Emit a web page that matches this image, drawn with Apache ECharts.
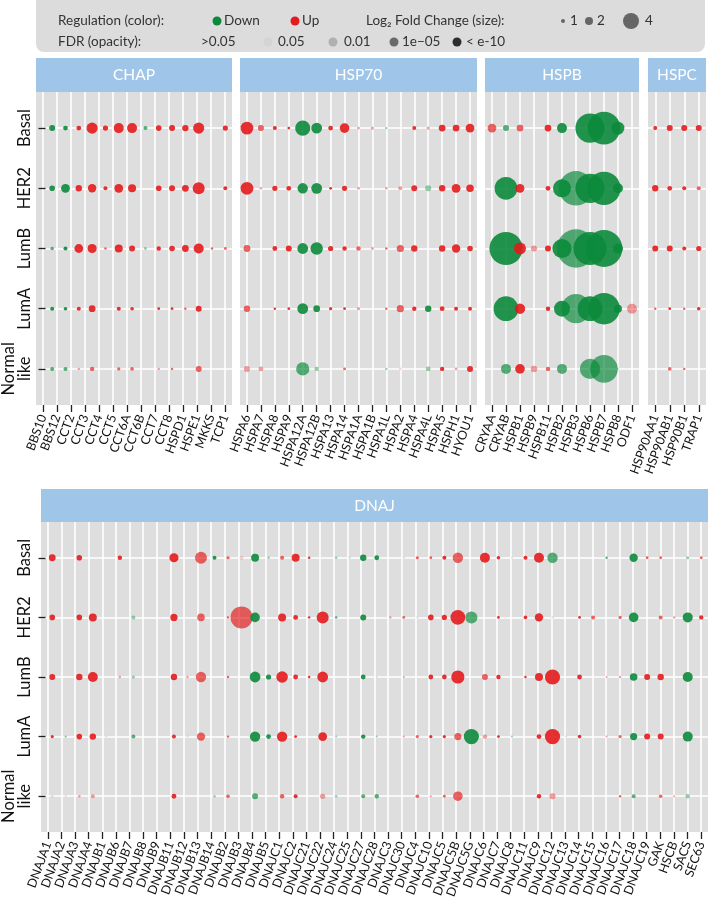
<!DOCTYPE html>
<html>
<head>
<meta charset="utf-8">
<script src="https://cdn.jsdelivr.net/npm/echarts@6/dist/echarts.min.js"></script>
<style>
html,body{margin:0;padding:0;background:#fff;}
#chart{width:709px;height:907px;}
</style>
</head>
<body>
<div id="chart"></div>
<script>
// ---------------- DATA ----------------
// rows (subtypes)
const rows = ['Basal', 'HER2', 'LumB', 'LumA', 'Normal\nlike'];
// FDR level codes: 0 = >0.05 (not drawn), 1 = 0.05, 2 = 0.01, 3 = 1e-05, 4 = < e-10
// fold change arrays: signed log2 fold change (negative = Down, positive = Up)

const chapGenes = ['BBS10','BBS12','CCT2','CCT3','CCT4','CCT5','CCT6A','CCT6B','CCT7','CCT8','HSPD1','HSPE1','MKKS','TCP1'];
const chapFC = [
  [-1.5,-1.2, 1.2, 2.8, 1.3, 2.5, 2.5,-1.0, 1.4, 1.5, 1.6, 2.8, 0,   1.3],
  [-1.4,-2.2, 1.6, 2.1, 1.0, 2.2, 2.0, 0,   1.4, 1.5, 1.7, 3.0, 0,   1.0],
  [-0.9,-1.0, 2.2, 2.3, 0.6, 2.0, 1.5,-0.7, 1.1, 1.4, 1.7, 2.5, 0.6, 0.7],
  [-1.0,-0.9, 1.0, 1.7, 0,   1.0, 0.9, 0,   0.7, 0.7, 0.6, 1.5, 0,   0  ],
  [-1.0,-1.0, 0.6, 1.1, 0,   0.8, 0.9, 0,   0.6, 0.6, 0,   1.5, 0,   0  ]
];
const chapFDR = [
  [4,4,4,4,4,4,4,3,4,4,4,4,0,4],
  [4,4,4,4,4,4,4,0,4,4,4,4,0,4],
  [3,4,4,4,3,4,4,2,4,4,4,4,3,3],
  [4,4,4,4,0,4,4,0,4,4,3,4,0,0],
  [3,3,2,3,0,3,3,0,2,3,0,3,0,0]
];

const hsp70Genes = ['HSPA6','HSPA7','HSPA8','HSPA9','HSPA12A','HSPA12B','HSPA13','HSPA14','HSPA1A','HSPA1B','HSPA1L','HSPA2','HSPA4','HSPA4L','HSPA5','HSPH1','HYOU1'];
const hsp70FC = [
  [3.2, 1.5, 1.0, 0.7,-3.8,-2.7, 1.2, 2.4, 0.7, 0.8,-0.6, 0,   1.0, 0.8, 1.7, 1.7, 2.2],
  [3.2, 0.6, 1.3, 1.2,-2.6,-2.7, 0.7, 1.3, 0.7, 0,   0.6, 1.0, 1.5,-1.5, 1.6, 2.2, 1.9],
  [1.7, 0,   1.2, 1.5,-2.7,-3.1, 1.3, 1.1, 1.1, 0.7, 0.6, 1.8, 1.6, 0,   1.6, 2.1, 1.4],
  [1.6, 0,   0.6, 0.7,-2.7,-1.7, 0.8, 0.7, 0.8, 0,   0.6, 1.8, 1.1,-1.6, 1.2, 1.0, 1.0],
  [1.5, 1.2, 0,   0,  -3.3,-1.1, 0,   0.7, 0,   0,  -0.6, 0.7, 0,  -1.2, 1.1, 0.7, 1.5]
];
const hsp70FDR = [
  [4,3,4,4,4,4,4,4,2,2,2,0,4,2,4,4,4],
  [4,2,4,4,4,4,4,4,2,0,2,2,4,2,4,4,4],
  [3,0,4,4,4,4,4,4,3,2,3,3,4,0,4,4,4],
  [3,0,4,4,4,4,4,4,2,0,3,3,4,4,4,4,4],
  [2,2,0,0,3,2,0,3,0,0,2,1,0,2,4,2,4]
];

const hspbGenes = ['CRYAA','CRYAB','HSPB1','HSPB9','HSPB11','HSPB2','HSPB3','HSPB6','HSPB7','HSPB8','ODF1'];
const hspbFC = [
  [2.2,-1.5, 1.7, 0,   1.7,-2.5, 0,  -7.3,-8.2,-3.2, 0  ],
  [0,  -5.7, 2.2, 0,   1.2,-4.5,-8.6,-7.3,-8.3,-2.5, 0  ],
  [0,  -8.3, 3.0, 1.5, 1.5,-4.8,-9.6,-8.3,-9.2,-2.5, 0  ],
  [0,  -6.2, 2.6, 0,   1.1,-4.0,-7.3,-6.2,-7.9,-2.0, 2.5],
  [0,  -2.5, 2.4, 1.6, 1.1,-2.5, 0,  -5.1,-6.9,-0.6, 0  ]
];
const hspbFDR = [
  [3,3,3,0,4,4,0,4,4,4,0],
  [0,4,4,0,4,4,3,4,4,4,0],
  [0,4,4,2,4,4,3,4,4,4,0],
  [0,4,4,0,4,4,3,4,4,4,2],
  [0,3,4,2,3,3,0,3,3,1,0]
];

const hspcGenes = ['HSP90AA1','HSP90AB1','HSP90B1','TRAP1'];
const hspcFC = [
  [1.0, 1.5, 1.5, 1.5],
  [1.6, 1.2, 1.0, 1.0],
  [1.5, 1.5, 1.0, 1.3],
  [0.6, 0.7, 0.6, 0.9],
  [0,   0.9, 0.6, 0  ]
];
const hspcFDR = [
  [4,4,4,4],
  [4,4,4,3],
  [4,4,4,4],
  [3,4,3,4],
  [0,3,3,0]
];

const dnajGenes = ['DNAJA1','DNAJA2','DNAJA3','DNAJA4','DNAJB1','DNAJB6','DNAJB7','DNAJB8','DNAJB9','DNAJB11','DNAJB12','DNAJB13','DNAJB14','DNAJB2','DNAJB3','DNAJB4','DNAJB5','DNAJC1','DNAJC2','DNAJC21','DNAJC22','DNAJC24','DNAJC25','DNAJC27','DNAJC28','DNAJC3','DNAJC30','DNAJC4','DNAJC10','DNAJC5','DNAJC5B','DNAJC5G','DNAJC6','DNAJC7','DNAJC8','DNAJC11','DNAJC9','DNAJC12','DNAJC13','DNAJC14','DNAJC15','DNAJC16','DNAJC17','DNAJC18','DNAJC19','GAK','HSCB','SACS','SEC63'];
const dnajFC = [
  [1.7, 0,   1.4, 0,   0,   1.1, 0,   0, 0, 2.3, 0,   3.0,-1.0, 0.8, 1.0,-2.0,-0.6, 1.0, 2.0, 0.6, 0,  -0.6,-0.6,
   -1.6,-1.2, 0,   0.5, 0.8, 0.7, 1.0, 2.6, 0,   2.5, 0.9, 0.5, 1.0, 2.5,-2.6, 0,   0,   0,  -0.6, 0,  -2.1, 0.7, 0.7, 0,  -0.8, 0.7],
  [1.4, 0,   1.4, 2.0, 0,   0,  -1.0, 0, 0, 1.8, 0,   1.9, 0,   0.6, 5.5,-2.4, 0,   2.0, 1.2, 0.6, 3.0,-0.6, 0,
   -1.5, 0,   0.6, 0.7, 0.5, 1.4, 1.3, 3.7,-3.0, 0,   0.7, 0,   0.9, 2.1, 0.6, 0,   0.7, 1.0, 0,   0.8,-2.4, 0,   1.0, 0.6,-2.5, 1.1],
  [1.5, 0,   1.6, 2.5, 0,   0.6,-0.8, 0, 0, 1.6, 0.6, 2.6, 0,   0.6, 0,  -2.7,-1.3, 2.9, 1.2, 0.6, 2.7, 0,   0,
   -1.2,-0.5, 0,   0.5, 0,   1.2, 1.2, 3.3, 0,   1.5, 1.1, 0,   0.6, 2.0, 3.8, 0,   1.2, 0,   0.5, 0.6,-1.9, 1.5, 1.6, 0,  -2.5, 0  ],
  [0.8,-0.6, 1.4, 1.6,-0.5, 0,  -1.0, 0, 0, 1.0, 0.5, 2.1, 0,   0.6, 0,  -2.6,-1.2, 2.6, 0.7, 0,   2.2,-0.5, 0,
   -1.1,-0.5, 0,   0.5, 0.8, 0.8, 0.8, 1.8,-3.8, 1.1, 0.7,-0.5, 0,   1.2, 3.8,-0.5, 0.9, 0,   0.5, 0.8,-1.8, 1.5, 1.5, 0,  -2.5, 0  ],
  [0.6,-0.5, 0.6, 1.0, 0,   0,   0,   0, 0, 1.2, 0,   0,  -0.6, 0.9, 0,  -1.5, 0,   1.1, 1.0, 0,   1.3,-0.6, 0,
   -1.0,-1.1, 0,   0,   0.9, 0.5, 0.7, 2.4, 0,   0,   0,   0,   0,   1.1, 1.5, 0,   0,   0,   0,   0.6,-1.0, 0,   0.9, 0.5,-1.1, 0  ]
];
const dnajFDR = [
  [4,0,4,0,0,4,0,0,0,4,0,3,4,3,1,4,2,3,4,4,0,2,1,
   4,4,0,1,3,3,4,3,0,4,4,1,4,4,3,0,0,0,3,0,4,3,3,0,2,3],
  [4,0,4,4,0,0,2,0,0,4,0,3,0,3,3,4,0,4,4,4,4,3,0,
   4,0,2,3,1,4,4,4,3,0,4,0,4,4,1,0,4,3,0,3,4,0,3,2,4,4],
  [4,0,4,4,0,2,2,0,0,4,2,3,0,3,0,4,4,4,4,4,4,0,0,
   4,1,0,2,0,4,4,4,0,3,4,0,4,4,4,0,4,0,2,2,4,4,4,0,4,0],
  [4,2,4,4,1,0,3,0,0,4,1,3,0,3,0,4,4,4,4,0,4,2,0,
   4,2,0,2,3,4,4,3,4,2,4,2,0,4,4,1,4,0,2,3,4,4,4,0,4,0],
  [1,1,2,2,0,0,0,0,0,4,0,0,2,3,0,3,0,3,4,0,2,2,0,
   3,3,0,0,3,2,3,3,0,0,0,0,0,4,2,0,0,0,0,3,3,0,3,2,2,0]
];

// ---------------- STYLE / LAYOUT ----------------
const FONT = 'Lato, "Liberation Sans", sans-serif';
const RED = '#e41a1c';
const GREEN = '#0b8a3b';
const PANEL_BG = '#dedede';
const STRIP = '#9fc5e8';
const ALPHA = [0, 0.18, 0.42, 0.68, 0.9];
const SIZE_PER_UNIT = 4;

const panels = [
  {name:'CHAP',  genes:chapGenes,  fc:chapFC,  fdr:chapFDR,  left:36,  width:196, top:92,  height:313, stripTop:58,  yLabels:true},
  {name:'HSP70', genes:hsp70Genes, fc:hsp70FC, fdr:hsp70FDR, left:240, width:237, top:92,  height:313, stripTop:58,  yLabels:false},
  {name:'HSPB',  genes:hspbGenes,  fc:hspbFC,  fdr:hspbFDR,  left:485, width:154, top:92,  height:313, stripTop:58,  yLabels:false},
  {name:'HSPC',  genes:hspcGenes,  fc:hspcFC,  fdr:hspcFDR,  left:648, width:58,  top:92,  height:313, stripTop:58,  yLabels:false},
  {name:'DNAJ',  genes:dnajGenes,  fc:dnajFC,  fdr:dnajFDR,  left:41,  width:667, top:522, height:310, stripTop:489, yLabels:true}
];

const grid = [], xAxis = [], yAxis = [], series = [], graphic = [];

panels.forEach((p) => {
  const u = p.height / (rows.length + 0.2);
  const gA = grid.length;
  // background grid (full panel): vertical grid lines, x ticks & labels
  grid.push({left:p.left, top:p.top, width:p.width, height:p.height, show:true, backgroundColor:PANEL_BG, borderWidth:0});
  xAxis.push({
    type:'category', gridIndex:gA, data:p.genes, position:'bottom',
    axisLine:{show:false},
    axisTick:{show:true, alignWithLabel:true, interval:0, length:7, lineStyle:{color:'#222', width:1.3}},
    axisLabel:{interval:0, rotate:70, margin:10, fontSize:12.5, color:'#111', fontFamily:FONT},
    splitLine:{show:true, alignWithLabel:true, interval:0, lineStyle:{color:'#ffffff', width:1.6}}
  });
  yAxis.push({type:'value', gridIndex:gA, show:false, min:0, max:1});
  // data grid (inner, ggplot-style 0.6 expansion)
  const gB = grid.length;
  grid.push({left:p.left, top:p.top + 0.1*u, width:p.width, height:rows.length*u, show:false});
  xAxis.push({type:'category', gridIndex:gB, data:p.genes, show:false});
  yAxis.push({
    type:'category', gridIndex:gB, data:rows, inverse:true,
    axisLine:{show:false},
    axisTick:{show:p.yLabels, alignWithLabel:true, interval:0, length:7, lineStyle:{color:'#222', width:1.3}},
    axisLabel:{show:p.yLabels, interval:0, rotate:90, margin:13, fontSize:16.5, color:'#111', fontFamily:FONT, lineHeight:16, align:'center'},
    splitLine:{show:true, alignWithLabel:true, interval:0, lineStyle:{color:'#ffffff', width:1.6}}
  });
  const data = [];
  p.genes.forEach((g, j) => {
    rows.forEach((r, i) => {
      const v = p.fc[i][j], lvl = p.fdr[i][j];
      if (!v || !lvl) return;
      data.push({
        value:[g, r, v, lvl],
        symbolSize: SIZE_PER_UNIT * Math.abs(v),
        itemStyle:{color: v > 0 ? RED : GREEN, opacity: ALPHA[lvl]}
      });
    });
  });
  series.push({type:'scatter', xAxisIndex:gB, yAxisIndex:gB, data:data, symbol:'circle', silent:true, z:3});
  // strip header
  graphic.push({type:'rect', shape:{x:p.left, y:p.stripTop, width:p.width, height:p.top - p.stripTop}, style:{fill:STRIP}, silent:true});
  graphic.push({type:'text', x:p.left + p.width/2, y:(p.stripTop + p.top)/2,
    style:{text:p.name, fill:'#ffffff', fontSize:15.5, fontFamily:FONT, align:'center', verticalAlign:'middle'}, silent:true});
});

// ---------------- LEGEND (graphic) ----------------
const LT = {fill:'#333', fontSize:13.5, fontFamily:FONT, verticalAlign:'middle'};
function txt(t, x, y){ graphic.push({type:'text', x:x, y:y, style:Object.assign({text:t}, LT), silent:true}); }
function dot(cx, cy, d, color){ graphic.push({type:'circle', shape:{cx:cx, cy:cy, r:d/2}, style:{fill:color}, silent:true}); }
graphic.push({type:'rect', shape:{x:36, y:-10, width:669, height:62, r:8}, style:{fill:'#dcdcdc'}, silent:true});
const r1 = 21, r2 = 42;
txt('Regulation (color):', 58, r1);
dot(217, r1, 9, GREEN); txt('Down', 224, r1);
dot(295, r1, 9, RED);   txt('Up', 302, r1);
txt('Log\u2082 Fold Change (size):', 366, r1);
dot(563, r1, SIZE_PER_UNIT*1, '#666'); txt('1', 570, r1);
dot(589, r1, SIZE_PER_UNIT*2, '#666'); txt('2', 597, r1);
dot(631, r1, SIZE_PER_UNIT*4, '#666'); txt('4', 645, r1);
txt('FDR (opacity):', 58, r2);
txt('>0.05', 201, r2);
dot(268, r2, 9, '#d4d4d4'); txt('0.05', 278, r2);
dot(333, r2, 9, '#b0b0b0'); txt('0.01', 344, r2);
dot(394, r2, 9, '#6a6a6a'); txt('1e\u221205', 402, r2);
dot(457, r2, 9, '#2e2e2e'); txt('< e-10', 466, r2);

const chart = echarts.init(document.getElementById('chart'), null, {renderer:'canvas'});
chart.setOption({
  backgroundColor:'#ffffff',
  animation:false,
  grid:grid, xAxis:xAxis, yAxis:yAxis, series:series, graphic:graphic
});
</script>
</body>
</html>
